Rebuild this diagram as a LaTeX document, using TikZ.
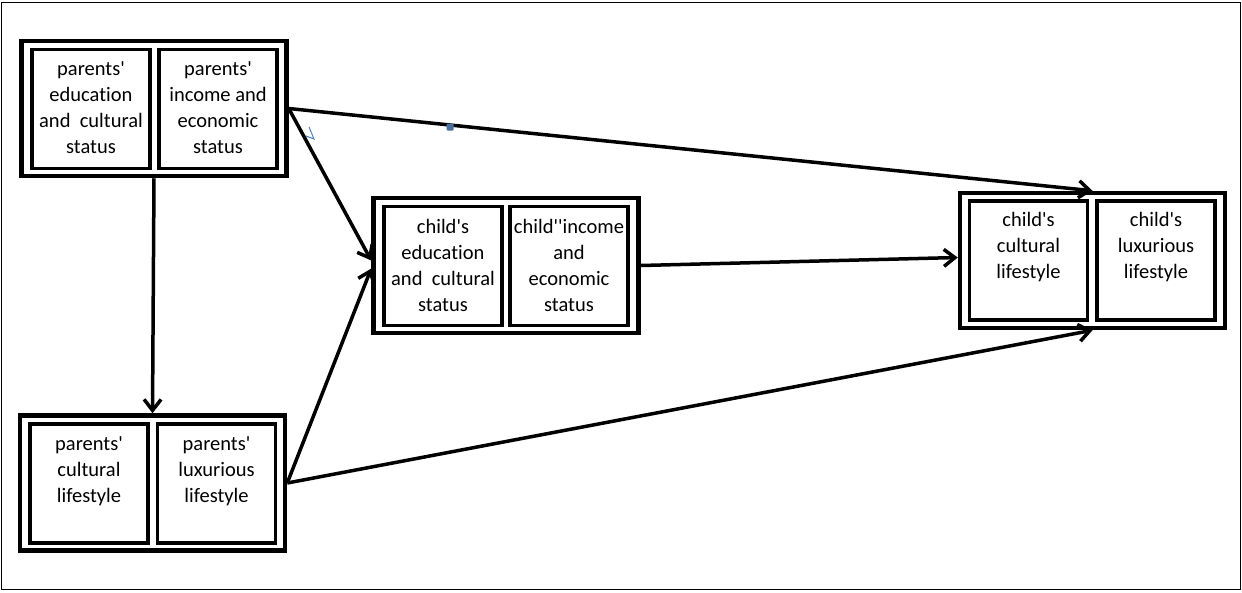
\documentclass[tikz,border=0pt]{standalone}
\usepackage{fontspec}
\newfontfamily\calfont{Carlito}[Ligatures=CommonOff]
\usetikzlibrary{arrows.meta}
\definecolor{selblue}{RGB}{74,110,160}
\definecolor{markblue}{RGB}{80,130,200}
\begin{document}
\begin{tikzpicture}[x=1pt,y=-1pt,
  outerbox/.style={draw, line width=4.5pt, minimum width=265pt, minimum height=135pt, inner sep=0pt},
  innerbox/.style={draw, line width=3.5pt, minimum width=118pt, minimum height=119pt, inner sep=0pt},
  lbl/.style={anchor=north, inner sep=0pt, align=center, font=\calfont\fontsize{20.5}{26}\selectfont},
  arr/.style={line width=3.5pt, -{Straight Barb[length=11pt,width=17pt,line width=3.5pt]}}
]
\useasboundingbox (0,0) rectangle (1242,592);
\fill[white] (0,0) rectangle (1242,592);
\draw[line width=1.8pt] (1.5,2.5) rectangle (1240.5,589.5);

% outer boxes
\node[outerbox] (PA) at (154,108.5) {};
\node[outerbox] (PB) at (152.5,483) {};
\node[outerbox] (CH) at (506,265.5) {};
\node[outerbox] (CR) at (1092.5,260.5) {};

% inner boxes
\node[innerbox] (PA1) at (91,109) {};
\node[innerbox] (PA2) at (218,109) {};
\node[innerbox] (PB1) at (89,483.5) {};
\node[innerbox] (PB2) at (216.5,483.5) {};
\node[innerbox] (CH1) at (443,266) {};
\node[innerbox] (CH2) at (569,266) {};
\node[innerbox] (CR1) at (1028.5,260.5) {};
\node[innerbox] (CR2) at (1156,260.5) {};

% labels
\node[lbl] (tPA1) at ([yshift=-14pt]PA1.north) {parents'\\education\\and~~cultural\\status};
\node[lbl] (tPA2) at ([yshift=-14pt]PA2.north) {parents'\\income and\\economic\\status};
\node[lbl] (tPB1) at ([yshift=-14pt]PB1.north) {parents'\\cultural\\lifestyle};
\node[lbl] (tPB2) at ([yshift=-14pt]PB2.north) {parents'\\luxurious\\lifestyle};
\node[lbl] (tCH1) at ([yshift=-14pt]CH1.north) {child's\\education\\and~~cultural\\status};
\node[lbl] (tCH2) at ([yshift=-14pt]CH2.north) {child''income\\and\\economic\\status};
\node[lbl] (tCR1) at ([yshift=-13pt]CR1.north) {child's\\cultural\\lifestyle};
\node[lbl] (tCR2) at ([yshift=-13pt]CR2.north) {child's\\luxurious\\lifestyle};

% connectors
\draw[arr] (PA.south) -- (PB.north);
\draw[arr] (PA.east) -- ([yshift=5pt]CH.west);
\draw[arr] (PB.east) -- ([yshift=-3pt]CH.west);
\draw[arr] (PA.east) -- (CR.north);
\draw[arr] (PB.east) -- (CR.south);
\draw[arr] (CH.east) -- ([yshift=3pt]CR.west);

% small blue selection marks
\fill[selblue, rounded corners=1pt] (446.5,123.5) rectangle (453.5,130.5);
\draw[markblue, line width=1pt] (309,127) -- (314,139) -- (306,136);
\end{tikzpicture}
\end{document}
